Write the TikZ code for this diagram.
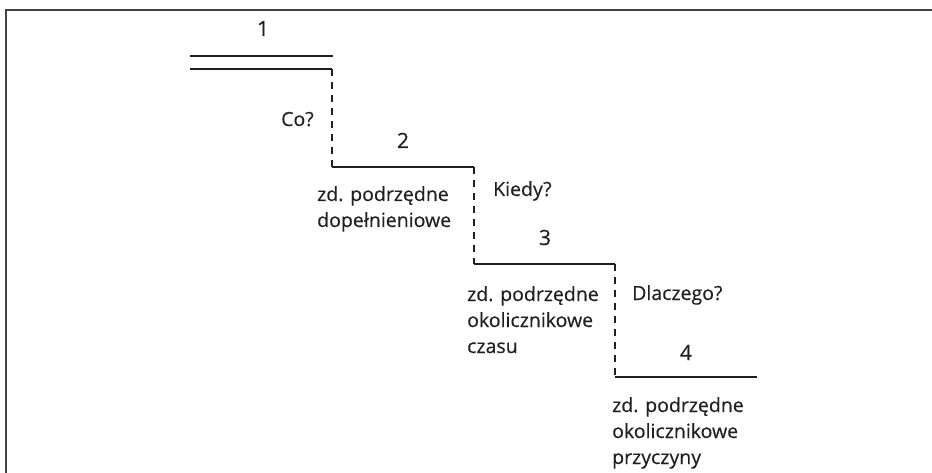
\documentclass[tikz,border=0pt]{standalone}
\usepackage{fontspec}
\setmainfont{Open Sans}[FakeBold=0.35]
\definecolor{ink}{HTML}{231F20}
\begin{document}
\begin{tikzpicture}[x=1pt,y=-1pt,
  frame/.style={draw=ink!85,line width=2.4pt},
  stepline/.style={draw=ink,line width=2pt},
  dashline/.style={draw=ink,line width=2pt,dash pattern=on 7pt off 6pt},
  lbl/.style={text=ink,font=\fontsize{19.5}{26}\selectfont,align=left,anchor=base west,inner sep=0pt},
  num/.style={text=ink,font=\fontsize{21}{24}\selectfont,anchor=base,inner sep=0pt}]
\useasboundingbox (0,0) rectangle (932,473);
\draw[frame] (6,473) -- (6,10) -- (932,10);
% coordinates
\coordinate (a0) at (190,56);
\coordinate (a1) at (333,56);
\coordinate (b0) at (190,69);
\coordinate (b1) at (332,69);
\coordinate (c0) at (332,167);
\coordinate (c1) at (474,167);
\coordinate (d0) at (474,264);
\coordinate (d1) at (615,264);
\coordinate (e0) at (615,377);
\coordinate (e1) at (757,377);
\draw[stepline] (a0) -- (a1);
\draw[stepline] (b0) -- (b1);
\draw[dashline] (b1) -- (c0);
\draw[stepline] (c0) -- (c1);
\draw[dashline] (c1) -- (d0);
\draw[stepline] (d0) -- (d1);
\draw[dashline] (d1) -- (e0);
\draw[stepline] (e0) -- (e1);
% numbers
\node[num] (n1) at (263,36) {1};
\node[num] (n2) at (403,148) {2};
\node[num] (n3) at (545,245) {3};
\node[num] (n4) at (686,360) {4};
% questions
\node[lbl] (q1) at (281,126) {Co?};
\node[lbl] (q2) at (493,196) {Kiedy?};
\node[lbl] (q3) at (632,300) {Dlaczego?};
% labels (anchor = baseline of last line)
\node[lbl] (t2) at (317,227) {zd. podrzędne\\dopełnieniowe};
\node[lbl] (t3) at (467,353) {zd. podrzędne\\okolicznikowe\\czasu};
\node[lbl] (t4) at (612,464) {zd. podrzędne\\okolicznikowe\\przyczyny};
\end{tikzpicture}
\end{document}
